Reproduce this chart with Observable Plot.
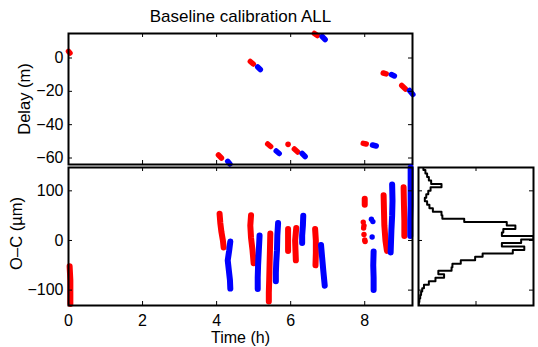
<!DOCTYPE html>
<html><head><meta charset="utf-8">
<script src="https://cdn.jsdelivr.net/npm/d3@7"></script>
<script src="https://cdn.jsdelivr.net/npm/@observablehq/plot@0.6"></script>
<style>
html,body{margin:0;padding:0;background:#fff;}
#wrap{position:relative;width:538px;height:347px;background:#fff;overflow:hidden;}
#wrap svg{position:absolute;left:0;top:0;background:transparent !important;}
</style></head><body><div id="wrap"></div>
<script>
// ---- texts & ticks ----
const titleText = "Baseline calibration ALL";
const xLabel = "Time (h)";
const delayLabel = "Delay (m)";
const ocLabel = "O\u2013C (\u00b5m)";
const timeTicks = [0, 2, 4, 6, 8];
const delayTicks = [0, -20, -40, -60];
const ocTicks = [-100, 0, 100];
const histTicks = [200];

// ---- top panel: delay (m) short tracks [t1, d1, t2, d2] ----
const delayRed = [
  [0.00, 4.0, 0.04, 3.0],
  [4.05, -58.2, 4.13, -60.0],
  [4.91, -2.1, 4.99, -3.6],
  [5.38, -51.6, 5.46, -53.1],
  [6.10, -54.6, 6.19, -56.4],
  [6.64, 14.7, 6.72, 13.5],
  [7.96, -51.2, 8.04, -51.6],
  [8.50, -9.0, 8.58, -9.5],
  [9.00, -16.5, 9.10, -18.6]
];
const delayBlue = [
  [4.30, -62.0, 4.36, -63.6],
  [5.11, -5.4, 5.18, -6.9],
  [5.61, -55.8, 5.69, -57.3],
  [6.31, -57.3, 6.39, -59.1],
  [6.85, 12.9, 6.93, 11.1],
  [8.21, -52.2, 8.31, -52.8],
  [8.72, -9.9, 8.80, -10.8],
  [9.21, -19.5, 9.30, -21.9]
];
const delayRedDots = [[5.93, -51.8]];

// ---- bottom panel: O-C (um) streaks, lists of [t, oc] ----
const ocRedStreaks = [
  [[0.03, -52], [0.05, -80], [0.05, -105], [0.05, -128]],
  [[4.08, 54], [4.10, 35], [4.13, 17], [4.17, 0], [4.19, -14]],
  [[4.93, 51], [4.91, 30], [4.93, 5], [4.97, -20], [5.00, -46]],
  [[5.45, 14], [5.44, -20], [5.43, -50], [5.42, -80], [5.41, -105], [5.41, -123]],
  [[5.93, 23], [5.93, 0], [5.93, -21]],
  [[6.15, 25], [6.12, 0], [6.13, -20], [6.14, -40]],
  [[6.66, 23], [6.68, 0], [6.68, -25], [6.67, -50]],
  [[8.00, 84], [8.00, 72]],
  [[8.51, 91], [8.52, 60], [8.53, 30], [8.56, 0], [8.60, -21]],
  [[9.05, 107], [9.06, 70], [9.07, 40], [9.07, 9]]
];
const ocBlueStreaks = [
  [[4.37, -2], [4.34, -20], [4.30, -40], [4.33, -60], [4.36, -80], [4.37, -97]],
  [[5.16, 10], [5.14, -20], [5.12, -50], [5.11, -75], [5.11, -98]],
  [[5.66, 35], [5.64, 10], [5.63, -20], [5.61, -45], [5.60, -65], [5.60, -82]],
  [[6.34, 50], [6.33, 30], [6.31, 10], [6.31, -5]],
  [[6.82, -9], [6.85, -35], [6.88, -60], [6.92, -91]],
  [[8.24, -22], [8.23, -50], [8.24, -75], [8.24, -100]],
  [[8.74, 113], [8.75, 80], [8.74, 50], [8.72, 20], [8.70, -24]],
  [[9.24, 147], [9.24, 110], [9.24, 70], [9.23, 40], [9.23, 9]]
];
const ocRedDots = [[7.96, 37], [7.98, 30], [7.97, 25], [7.98, 12], [8.00, 1], [8.01, -2]];
const ocBlueDots = [[8.18, 43], [8.22, 38], [8.20, 7]];

// ---- right panel: histogram of O-C ----
const histEdges = [-131, -124, -117, -110, -103, -96, -89, -82, -75, -68, -61, -54, -47, -40, -33, -26, -19, -12, -5, 2, 9,
  16, 23, 30, 37, 44, 51, 58, 65, 72, 79, 86, 93, 100, 107, 114, 121, 128, 135, 142, 149];
const histCounts = [1, 3, 6, 9, 13, 19, 36, 59, 89, 69, 115, 118, 147, 197, 223, 328, 368, 290, 357, 400,
  290, 295, 337, 307, 159, 83, 80, 50, 38, 30, 22, 27, 34, 42, 80, 44, 36, 30, 24, 17];

// ---- build rows ----
const segRows = (segs) => segs.flatMap((s, i) => [{t: s[0], v: s[1], id: i}, {t: s[2], v: s[3], id: i}]);
const streakRows = (streaks) => streaks.flatMap((s, i) => s.map(p => ({t: p[0], v: p[1], id: i})));
const dotRows = (ds) => ds.map(p => ({t: p[0], v: p[1]}));
const histRows = histCounts.flatMap((c, i) => [{c, v: histEdges[i]}, {c, v: histEdges[i + 1]}]);
const fmt = d => d < 0 ? "\u2212" + Math.abs(d) : String(d);

const W = 538, H = 347;
const RED = "#ff0000", BLUE = "#0000ff";
const FONT = "'Liberation Sans', Arial, Helvetica, sans-serif";
const baseStyle = {fontFamily: FONT, fontSize: "16px", background: "transparent", overflow: "visible", color: "black"};
const wrap = document.getElementById("wrap");

// Top panel frame: x 68..412, y 33..164
const topP = {l: 68, r: 412, t: 33, b: 164};
const topFW = topP.r - topP.l, topFH = topP.b - topP.t;
wrap.append(Plot.plot({
  width: W, height: H,
  marginLeft: topP.l, marginRight: W - topP.r, marginTop: topP.t, marginBottom: H - topP.b,
  style: baseStyle,
  x: {domain: [0, 9.29], axis: null},
  y: {domain: [-63.9, 14.7], axis: null},
  marks: [
    Plot.line(segRows(delayRed), {x: "t", y: "v", z: "id", stroke: RED, strokeWidth: 5.5, strokeLinecap: "round"}),
    Plot.line(segRows(delayBlue), {x: "t", y: "v", z: "id", stroke: BLUE, strokeWidth: 5.5, strokeLinecap: "round"}),
    Plot.dot(dotRows(delayRedDots), {x: "t", y: "v", r: 2.8, fill: RED}),
    Plot.frame({stroke: "black", strokeWidth: 2}),
    Plot.tickX(timeTicks, {x: d => d, insetTop: topFH - 4, stroke: "black"}),
    Plot.tickX(timeTicks, {x: d => d, insetBottom: topFH - 4, stroke: "black"}),
    Plot.tickY(delayTicks, {y: d => d, insetRight: topFW - 4, stroke: "black"}),
    Plot.tickY(delayTicks, {y: d => d, insetLeft: topFW - 4, stroke: "black"}),
    Plot.text(delayTicks, {y: d => d, text: fmt, frameAnchor: "left", dx: -5, textAnchor: "end", fontSize: 16}),
    Plot.text([delayLabel], {text: d => d, frameAnchor: "left", dx: 29.5 - topP.l, rotate: -90, lineAnchor: "bottom", textAnchor: "middle", fontSize: 16.5}),
    Plot.text([titleText], {text: d => d, frameAnchor: "top", dy: 21.5 - topP.t, lineAnchor: "bottom", textAnchor: "middle", fontSize: 17})
  ]
}));

// Bottom panel frame: x 68..412, y 167..305
const botP = {l: 68, r: 412, t: 167, b: 305};
const botFW = botP.r - botP.l, botFH = botP.b - botP.t;
wrap.append(Plot.plot({
  width: W, height: H,
  marginLeft: botP.l, marginRight: W - botP.r, marginTop: botP.t, marginBottom: H - botP.b,
  style: baseStyle,
  x: {domain: [0, 9.29], axis: null},
  y: {domain: [-131, 147], axis: null},
  marks: [
    Plot.line(streakRows(ocRedStreaks), {x: "t", y: "v", z: "id", stroke: RED, strokeWidth: 6, strokeLinecap: "round", strokeLinejoin: "round"}),
    Plot.line(streakRows(ocBlueStreaks), {x: "t", y: "v", z: "id", stroke: BLUE, strokeWidth: 6, strokeLinecap: "round", strokeLinejoin: "round"}),
    Plot.dot(dotRows(ocRedDots), {x: "t", y: "v", r: 2.7, fill: RED}),
    Plot.dot(dotRows(ocBlueDots), {x: "t", y: "v", r: 2.7, fill: BLUE}),
    Plot.frame({stroke: "black", strokeWidth: 2}),
    Plot.tickX(timeTicks, {x: d => d, insetTop: botFH - 4, stroke: "black"}),
    Plot.tickX(timeTicks, {x: d => d, insetBottom: botFH - 4, stroke: "black"}),
    Plot.tickY(ocTicks, {y: d => d, insetRight: botFW - 4, stroke: "black"}),
    Plot.tickY(ocTicks, {y: d => d, insetLeft: botFW - 4, stroke: "black"}),
    Plot.text(ocTicks, {y: d => d, text: fmt, frameAnchor: "left", dx: -5, textAnchor: "end", fontSize: 16}),
    Plot.text(timeTicks, {x: d => d, text: fmt, frameAnchor: "bottom", dy: 9, lineAnchor: "top", textAnchor: "middle", fontSize: 16}),
    Plot.text([xLabel], {text: d => d, frameAnchor: "bottom", dy: 37, lineAnchor: "bottom", textAnchor: "middle", fontSize: 16}),
    Plot.text([ocLabel], {text: d => d, frameAnchor: "left", dx: 21.5 - botP.l, dy: -3, rotate: -90, lineAnchor: "bottom", textAnchor: "middle", fontSize: 16.5})
  ]
}));

// Histogram panel frame: x 418..533, y 167..305
const hP = {l: 418, r: 533, t: 167, b: 305};
const hFW = hP.r - hP.l, hFH = hP.b - hP.t;
wrap.append(Plot.plot({
  width: W, height: H,
  marginLeft: hP.l, marginRight: W - hP.r, marginTop: hP.t, marginBottom: H - hP.b,
  style: baseStyle,
  x: {domain: [0, 400], axis: null},
  y: {domain: [-131, 147], axis: null},
  marks: [
    Plot.line(histRows, {x: "c", y: "v", stroke: "black", strokeWidth: 2, clip: true}),
    Plot.frame({stroke: "black", strokeWidth: 2}),
    Plot.tickX(histTicks, {x: d => d, insetTop: hFH - 4, stroke: "black"}),
    Plot.tickX(histTicks, {x: d => d, insetBottom: hFH - 4, stroke: "black"}),
    Plot.tickY(ocTicks, {y: d => d, insetRight: hFW - 4, stroke: "black"}),
    Plot.tickY(ocTicks, {y: d => d, insetLeft: hFW - 4, stroke: "black"})
  ]
}));
</script>
</body></html>
